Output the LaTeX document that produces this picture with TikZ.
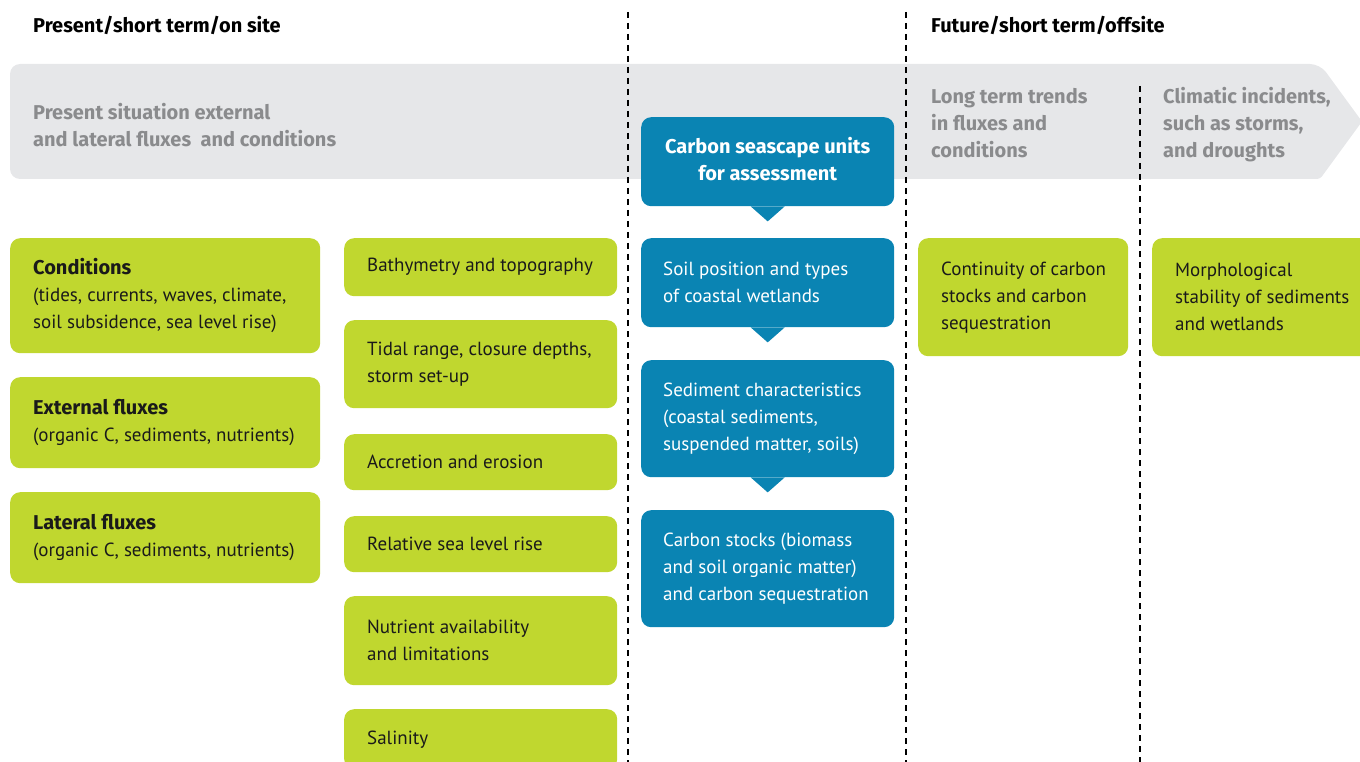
\documentclass[tikz,border=0pt]{standalone}
\usepackage{fontspec}
\setmainfont{PT Sans}
\newfontfamily\boldfam{Fira Sans}
\usetikzlibrary{calc}
\definecolor{lime}{HTML}{C0D72F}
\definecolor{sea}{HTML}{0A84B3}
\definecolor{band}{HTML}{E6E7E9}
\definecolor{bandtext}{HTML}{8A8B8D}
\definecolor{ink}{HTML}{1A1A1A}
\newcommand{\bt}[1]{{\fontsize{20}{27}\selectfont\boldfam\bfseries #1}}
\begin{document}
\begin{tikzpicture}[x=1pt,y=-1pt,
  fnt/.style={font=\fontsize{19}{27}\selectfont},
  bfnt/.style={font=\fontsize{20}{27}\selectfont\boldfam\bfseries},
  txt/.style={fnt, inner sep=0pt, align=left, anchor=west, text=ink},
  wtxt/.style={txt, text=white},
  gtxt/.style={txt, text=bandtext, bfnt},
  gbox/.style={fill=lime, rounded corners=10pt, draw=none, inner sep=0pt, anchor=north west},
  bbox/.style={fill=sea, rounded corners=10pt, draw=none, inner sep=0pt, anchor=north west},
  sep/.style={draw=black, line width=2pt, dash pattern=on 6pt off 5pt},
  ptr/.style={fill=sea, draw=none}
]
\useasboundingbox (0,0) rectangle (1360,762);
\clip (0,0) rectangle (1360,762);

% headings
\node[txt, bfnt, text=black] (h1) at (33,25) {Present/short term/on site};
\node[txt, bfnt, text=black] (h2) at (931,25) {Future/short term/offsite};

% grey band arrow
\fill[band, rounded corners=10pt] (1320,179) -- (10,179) -- (10,64) -- (1320,64) [rounded corners=3pt] -- (1362,121.5) -- cycle;

% separators
\coordinate (s1a) at (628,12); \coordinate (s1b) at (628,762);
\coordinate (s2a) at (906,12); \coordinate (s2b) at (906,762);
\coordinate (s3a) at (1140,86); \coordinate (s3b) at (1140,762);
\draw[sep] (s1a) -- (s1b);
\draw[sep] (s2a) -- (s2b);
\draw[sep] (s3a) -- (s3b);

% band texts
\node[gtxt] (g1) at (33,125.5) {Present situation external\\and lateral fluxes\ \ and conditions};
\node[gtxt] (g2) at (931,123) {Long term trends\\in fluxes and\\conditions};
\node[gtxt] (g3) at (1163,125) {Climatic incidents,\\such as storms,\\and droughts};

% column 1
\node[gbox, minimum width=310pt, minimum height=115pt] (cond) at (10,238) {};
\node[txt] (condT) at ([xshift=23pt]cond.west) {\bt{Conditions}\\(tides, currents, waves, climate,\\soil subsidence, sea level rise)};
\node[gbox, minimum width=310pt, minimum height=91pt] (ext) at (10,377) {};
\node[txt] (extT) at ([xshift=23pt]ext.west) {\bt{External fluxes}\\(organic C, sediments, nutrients)};
\node[gbox, minimum width=310pt, minimum height=91pt] (lat) at (10,492) {};
\node[txt] (latT) at ([xshift=23pt]lat.west) {\bt{Lateral fluxes}\\(organic C, sediments, nutrients)};

% column 2
\node[gbox, minimum width=273pt, minimum height=58pt] (bath) at (344,238) {};
\node[txt] (bathT) at ([xshift=23pt]bath.west) {Bathymetry and topography};
\node[gbox, minimum width=273pt, minimum height=88pt] (tidal) at (344,320) {};
\node[txt] (tidalT) at ([xshift=23pt]tidal.west) {Tidal range, closure depths,\\storm set-up};
\node[gbox, minimum width=273pt, minimum height=56pt] (accr) at (344,434) {};
\node[txt] (accrT) at ([xshift=23pt]accr.west) {Accretion and erosion};
\node[gbox, minimum width=273pt, minimum height=56pt] (rslr) at (344,516) {};
\node[txt] (rslrT) at ([xshift=23pt]rslr.west) {Relative sea level rise};
\node[gbox, minimum width=273pt, minimum height=89pt] (nutr) at (344,596) {};
\node[txt] (nutrT) at ([xshift=23pt]nutr.west) {Nutrient availability\\and limitations};
\node[gbox, minimum width=273pt, minimum height=60pt] (sal) at (344,709) {};
\node[txt] (salT) at ([xshift=23pt]sal.west) {Salinity};

% blue column
\node[bbox, minimum width=253pt, minimum height=89pt] (unit) at (641,117) {};
\node[inner sep=0pt, align=center, text=white, bfnt] (unitT) at ([yshift=3pt]unit.center) {Carbon seascape units\\for assessment};
\fill[ptr] ([xshift=-17pt]unit.south) -- ([yshift=-15pt]unit.south) -- ([xshift=17pt]unit.south) -- cycle;

\node[bbox, minimum width=253pt, minimum height=89pt] (soil) at (641,238) {};
\node[wtxt] (soilT) at ([xshift=22pt]soil.west) {Soil position and types\\of coastal wetlands};
\fill[ptr] ([xshift=-17pt]soil.south) -- ([yshift=-15pt]soil.south) -- ([xshift=17pt]soil.south) -- cycle;

\node[bbox, minimum width=253pt, minimum height=117pt] (sed) at (641,360) {};
\node[wtxt] (sedT) at ([xshift=22pt]sed.west) {Sediment characteristics\\(coastal sediments,\\suspended matter, soils)};
\fill[ptr] ([xshift=-17pt]sed.south) -- ([yshift=-15pt]sed.south) -- ([xshift=17pt]sed.south) -- cycle;

\node[bbox, minimum width=253pt, minimum height=117pt] (stock) at (641,510) {};
\node[wtxt] (stockT) at ([xshift=22pt]stock.west) {Carbon stocks (biomass\\and soil organic matter)\\and carbon sequestration};

% right column
\node[gbox, minimum width=210pt, minimum height=118pt] (cont) at (918,238) {};
\node[txt] (contT) at ([xshift=23pt]cont.west) {Continuity of carbon\\stocks and carbon\\sequestration};
\node[gbox, minimum width=230pt, minimum height=118pt] (morph) at (1152,238) {};
\node[txt] (morphT) at ([xshift=23pt]morph.west) {Morphological\\stability of sediments\\and wetlands};
\end{tikzpicture}
\end{document}
